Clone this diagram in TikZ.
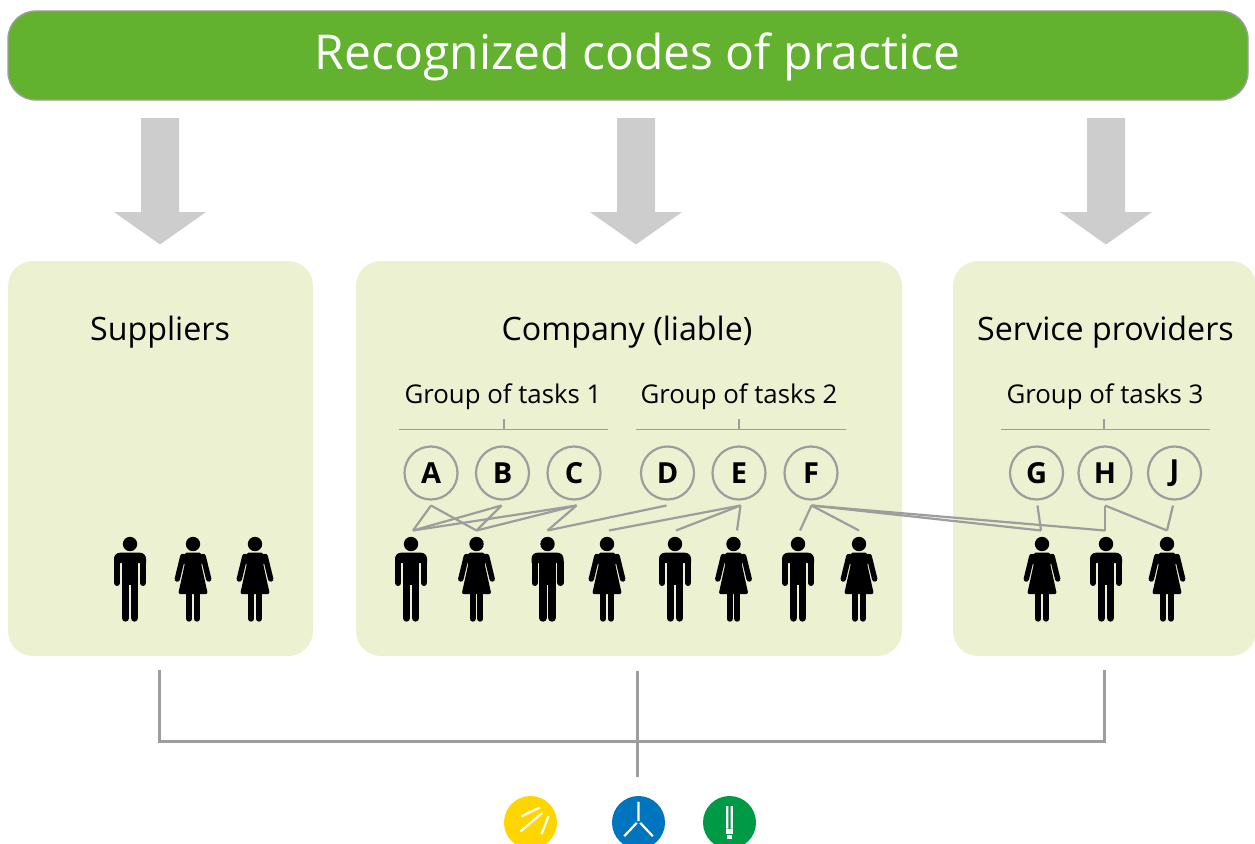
\documentclass[tikz,border=0pt]{standalone}
\usepackage{fontspec}
\setmainfont{Open Sans}
\definecolor{barGreen}{HTML}{63B22F}
\definecolor{panelGreen}{HTML}{ECF1D1}
\definecolor{lineGrey}{HTML}{9D9D9C}
\definecolor{arrowGrey}{HTML}{CDCDCD}
\definecolor{iconYellow}{HTML}{FFD500}
\definecolor{iconBlue}{HTML}{0075BF}
\definecolor{iconGreen}{HTML}{009A46}
\tikzset{
	titlebar/.style={draw=lineGrey, line width=1.4pt, fill=barGreen, rounded corners=28pt, inner sep=0pt, minimum width=1240pt, minimum height=89pt},
	panel/.style={fill=panelGreen, rounded corners=25pt, inner sep=0pt, minimum height=395pt},
	heading/.style={anchor=base, font=\fontsize{32.2}{38}\selectfont},
	grouplabel/.style={anchor=base, font=\fontsize{25.8}{30}\selectfont},
	letter/.style={circle, draw=lineGrey, line width=2.2pt, minimum size=53pt, inner sep=0pt, outer sep=6pt, font=\fontsize{29}{34}\selectfont\bfseries},
	link/.style={draw=lineGrey, line width=2.2pt},
	bus/.style={draw=lineGrey, line width=3pt},
	icon/.style={circle, minimum size=53pt, inner sep=0pt},
	ray/.style={draw=white, line width=2.2pt},
	man/.pic={
		\coordinate (-top) at (0,-13.5);
		\fill (0,0) circle[radius=7.2];
		\fill (-16,19) [rounded corners=6pt] -- (-16,8.7) -- (16,8.7) [sharp corners] -- (16,19) -- cycle;
		\fill (-8.2,15) rectangle (8.2,41);
		\draw[line width=6.2pt, line cap=round] (-12.9,18) -- (-12.9,38.9) (12.9,18) -- (12.9,38.9);
		\draw[line width=7.6pt, line cap=round] (-4.5,40) -- (-4.5,73.9) (4.5,40) -- (4.5,73.9);
	},
	woman/.pic={
		\coordinate (-top) at (0,-13.5);
		\fill (0,0) circle[radius=7.2];
		\fill[rounded corners=2pt] (-8.5,8.7) -- (8.5,8.7) -- (10.5,16) -- (8,19) -- (14.8,50) -- (-14.8,50) -- (-8,19) -- (-10.5,16) -- cycle;
		\draw[line width=5.4pt, line cap=round] (-10.2,12.5) -- (-15.7,35) (10.2,12.5) -- (15.7,35);
		\draw[line width=6.2pt, line cap=round] (-3.8,48) -- (-3.8,74.6) (3.8,48) -- (3.8,74.6);
	},
}
\begin{document}
\begin{tikzpicture}[x=1pt, y=-1pt]
	\useasboundingbox (0,0) rectangle (1255,843);

	% top bar and big arrows
	\node[titlebar] (codes) at (628,55.5) {};
	\node[anchor=base, text=white, font=\fontsize{48}{56}\selectfont] (codesText) at (637.5,70) {Recognized codes of practice};
	\foreach \x in {160,636,1106}
		\fill[arrowGrey] (\x-19,118) -- (\x+19,118) -- (\x+19,212) -- (\x+46,212) -- (\x,244.5) -- (\x-46,212) -- (\x-19,212) -- cycle;

	% panels
	\node[panel, minimum width=305pt] (suppliers) at (160.5,458.5) {};
	\node[panel, minimum width=546pt] (company) at (629,458.5) {};
	\node[panel, minimum width=303pt] (service) at (1104.5,458.5) {};

	\node[heading] (suppliersText) at (160,340.5) {Suppliers};
	\node[heading] (companyText) at (627,340.5) {Company (liable)};
	\node[heading] (serviceText) at (1105.5,340.5) {Service providers};

	\node[grouplabel] (groupI) at (503,403) {Group of tasks 1};
	\node[grouplabel] (groupII) at (739,403) {Group of tasks 2};
	\node[grouplabel] (groupIII) at (1105,403) {Group of tasks 3};

	% brackets
	\path
		(399,429.5) coordinate (bracketIa)
		(608,429.5) coordinate (bracketIb)
		(504,429.5) coordinate (bracketIc)
		(636,429.5) coordinate (bracketIIa)
		(846,429.5) coordinate (bracketIIb)
		(739,429.5) coordinate (bracketIIc)
		(1001,429.5) coordinate (bracketIIIa)
		(1210,429.5) coordinate (bracketIIIb)
		(1104,429.5) coordinate (bracketIIIc)
	;
	\draw[lineGrey, line width=1.2pt]
		(bracketIa) -- (bracketIb) (bracketIc) -- ++(0,-11)
		(bracketIIa) -- (bracketIIb) (bracketIIc) -- ++(0,-11)
		(bracketIIIa) -- (bracketIIIb) (bracketIIIc) -- ++(0,-11)
	;

	% task circles
	\node[letter] (A) at (431,473) {A};
	\node[letter] (B) at (502.5,473) {B};
	\node[letter] (C) at (574,473) {C};
	\node[letter] (D) at (667.5,473) {D};
	\node[letter] (E) at (739,473) {E};
	\node[letter] (F) at (811,473) {F};
	\node[letter] (G) at (1036.5,473) {G};
	\node[letter] (H) at (1105,473) {H};
	\node[letter] (J) at (1174.5,473) {J};

	% people
	\pic (s1) at (130,544) {man};
	\pic (s2) at (193,544) {woman};
	\pic (s3) at (255,544) {woman};
	\pic (p1) at (411,544) {man};
	\pic (p2) at (476.5,544) {woman};
	\pic (p3) at (547.5,544) {man};
	\pic (p4) at (607,544) {woman};
	\pic (p5) at (675,544) {man};
	\pic (p6) at (733.5,544) {woman};
	\pic (p7) at (798,544) {man};
	\pic (p8) at (859,544) {woman};
	\pic (p9) at (1042,544) {woman};
	\pic (p10) at (1106,544) {man};
	\pic (p11) at (1167,544) {woman};

	% who does which task
	\foreach \a/\dx/\b/\dy in {
		A/0/p1/2, A/0/p2/0, B/-1/p1/2, B/-1/p2/0, C/2.5/p1/2, C/2.5/p2/0, C/2.5/p3/0,
		D/-1/p3/0, E/1.5/p4/2, E/1.5/p5/1, E/1.5/p6/3.5,
		F/0.5/p7/2, F/0.5/p8/0, F/0.5/p9/-1, F/0.5/p10/-1,
		G/1/p9/-1, H/0/p10/-1, H/0/p11/0, J/-1.5/p11/0}
		\draw[link] ([xshift=\dx]\a.south) -- ([xshift=\dy]\b-top);

	% bottom bus
	\path
		(159,670) coordinate (busLtop)
		(159,741) coordinate (busL)
		(637,671) coordinate (busMtop)
		(637,741) coordinate (busM)
		(637,777) coordinate (busMend)
		(1104.5,670) coordinate (busRtop)
		(1104.5,741) coordinate (busR)
	;
	\draw[bus] (busLtop) -- (busL) -- (busR) -- (busRtop);
	\draw[bus] (busMtop) -- (busMend);

	% icons
	\node[icon, fill=iconYellow] (sun) at (530.5,822.5) {};
	\node[icon, fill=iconBlue] (wind) at (638.5,822.5) {};
	\node[icon, fill=iconGreen] (lamp) at (729.5,822.5) {};
	\draw[ray]
		([shift={(-9,-6.3)}]sun.center) -- ([shift={(9.3,-15)}]sun.center)
		([shift={(-10,9)}]sun.center) -- ([shift={(12,-9.7)}]sun.center)
		([shift={(11,11.7)}]sun.center) -- ([shift={(18,-6.3)}]sun.center)
		([shift={(0,-20.7)}]wind.center) -- ([shift={(0,-1.3)}]wind.center)
		([shift={(-1.7,.3)}]wind.center) -- ([shift={(-14.3,13.7)}]wind.center)
		([shift={(1.7,.3)}]wind.center) -- ([shift={(14.3,13.7)}]wind.center)
		([shift={(-2.2,-16.5)}]lamp.center) -- ([shift={(-2.2,6)}]lamp.center)
		([shift={(2.2,-16.5)}]lamp.center) -- ([shift={(2.2,6)}]lamp.center)
	;
	\fill[white] ([shift={(-3.6,6)}]lamp.center) rectangle ([shift={(3.6,11)}]lamp.center);
	\fill[white] ([shift={(-2.2,12.5)}]lamp.center) rectangle ([shift={(2.2,16)}]lamp.center);
\end{tikzpicture}
\end{document}
